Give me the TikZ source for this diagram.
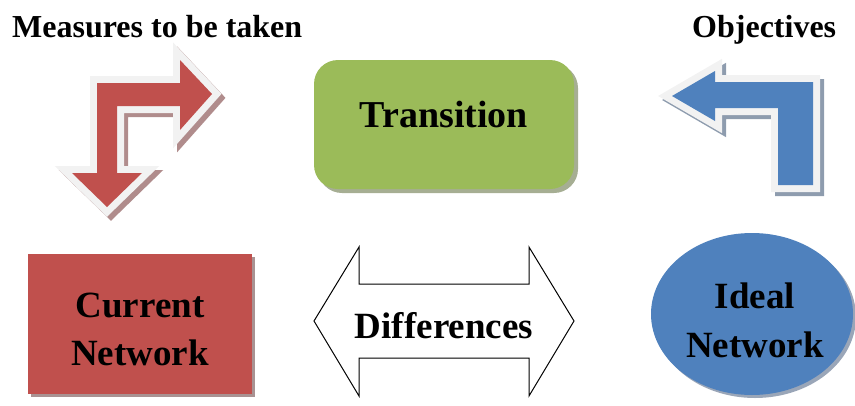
\documentclass[tikz,border=0pt]{standalone}
\usepackage{fontspec}
\setmainfont{Liberation Serif}
\definecolor{netred}{HTML}{C0504D}
\definecolor{netgreen}{HTML}{9BBB59}
\definecolor{netblue}{HTML}{4F81BD}
\definecolor{rim}{HTML}{F2F2F2}
\definecolor{redshade}{HTML}{B08C8C}
\definecolor{blueshade}{HTML}{8E9CAE}
\definecolor{boxshade}{HTML}{A99292}
\definecolor{greenshade}{HTML}{A6AE93}
\definecolor{ovalshade}{HTML}{9AA6B8}

% bent arrow outlines (pixel-like units, y grows downwards)
\newcommand{\redbentpath}[1]{\path[#1] (97,83) -- (180,83) -- (180,60) -- (212,94) -- (180,130)
  -- (180,106) -- (117,106) -- (117,173) -- (142,173) -- (107,207) -- (72,173) -- (97,173) -- cycle;}
\newcommand{\bluebentpath}[1]{\path[#1] (813,82) -- (813,185) -- (778,185) -- (778,108)
  -- (715,108) -- (715,121) -- (672,96) -- (715,71) -- (715,82) -- cycle;}

\begin{document}
\begin{tikzpicture}[x=1pt,y=-1pt,
  title/.style={font=\fontsize{32}{38}\selectfont\bfseries, inner sep=0pt},
  boxtext/.style={font=\fontsize{37}{48}\selectfont\bfseries, align=center, inner sep=0pt},
  rimline/.style={draw=rim, line width=14pt, line join=miter}]
\useasboundingbox (0,0) rectangle (855,405);

% headings
\node[title, anchor=base west] (measures) at (12,37) {Measures to be taken};
\node[title, anchor=base west] (objectives) at (692,37) {Objectives};

% red bent arrow: shadow, light rim, fill
\begin{scope}[shift={(4,4)}]
  \redbentpath{fill=redshade, draw=redshade, line width=14pt, line join=miter}
\end{scope}
\redbentpath{rimline}
\redbentpath{fill=netred}

% blue bent arrow: shadow, light rim, fill
\begin{scope}[shift={(4,4)}]
  \bluebentpath{fill=blueshade, draw=blueshade, line width=14pt, line join=miter}
\end{scope}
\bluebentpath{rimline}
\bluebentpath{fill=netblue}

% transition box
\fill[greenshade, rounded corners=24pt] (318,64) rectangle (578,193);
\fill[netgreen, rounded corners=24pt] (314,60) rectangle (574,189);
\node[boxtext, font=\fontsize{38}{48}\selectfont\bfseries, anchor=base] (transition) at (444,127) {Transition};

% current network box
\fill[boxshade] (31,257) rectangle (255,397);
\fill[netred] (28,254) rectangle (252,394);
\node[boxtext] (current) at (140,329) {Current\\Network};

% ideal network oval
\fill[ovalshade] (755,317) ellipse [x radius=101, y radius=81];
\fill[netblue] (752,314) ellipse [x radius=101, y radius=81];
\node[boxtext, font=\fontsize{37}{49}\selectfont\bfseries] (ideal) at (755,320) {Ideal\\Network};

% double-headed arrow
\draw[black, line width=1pt, fill=white, line join=miter]
  (314,321) -- (359,247) -- (359,284) -- (529,284) -- (529,247) -- (574,321)
  -- (529,396) -- (529,358) -- (359,358) -- (359,396) -- cycle;
\node[boxtext, anchor=base] (differences) at (444,338) {Differences};
\end{tikzpicture}
\end{document}
